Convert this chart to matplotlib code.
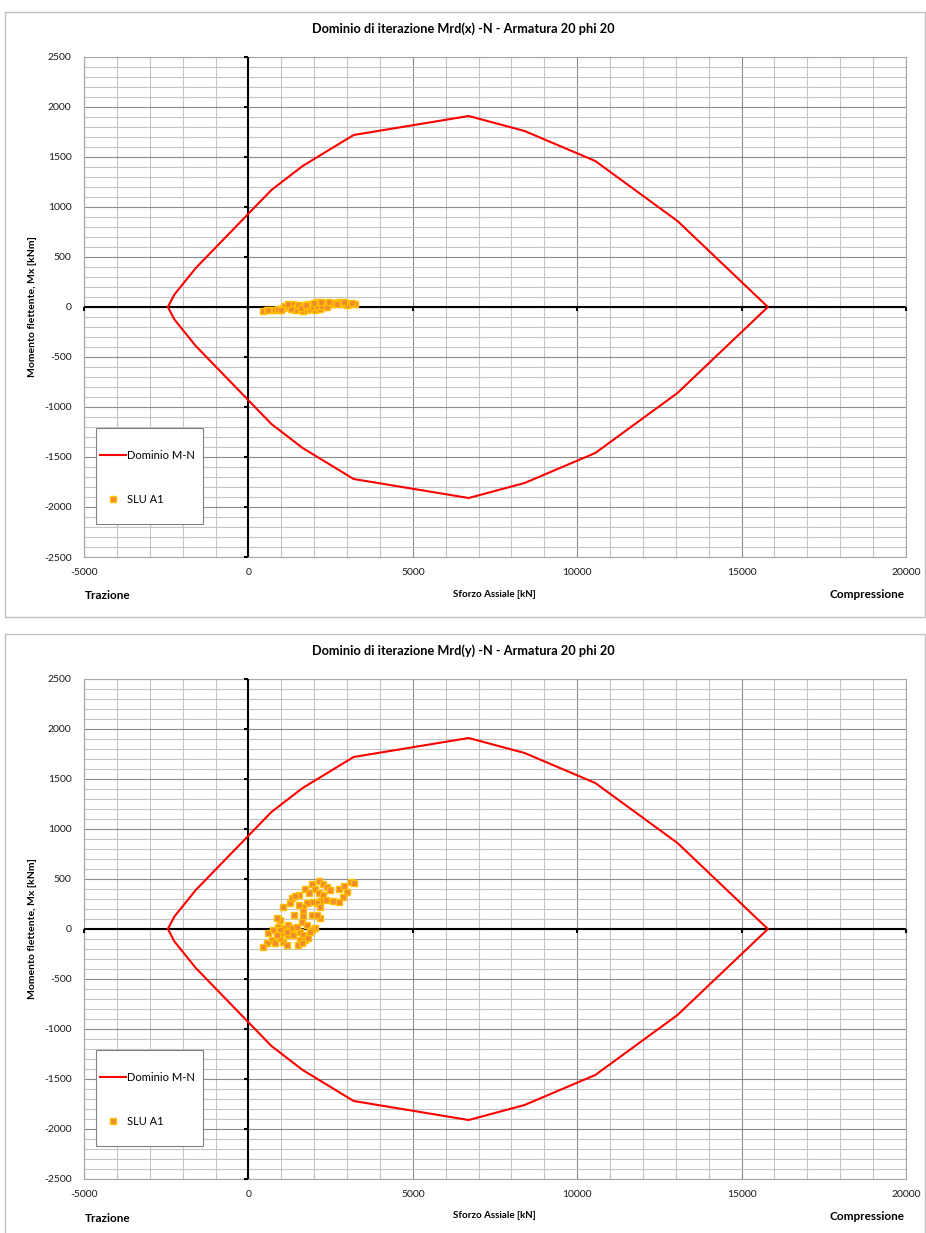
import numpy as np
import matplotlib.pyplot as plt
from matplotlib.patches import Rectangle
from matplotlib.ticker import MultipleLocator

plt.rcParams['font.family'] = ['Lato', 'DejaVu Sans']
plt.rcParams['axes.unicode_minus'] = False

W, H = 926, 1233

# dominio M-N (meta superiore, simmetrico rispetto a M=0)
dom_N = [-2450, -2250, -1600, 700, 1650, 3200, 6700, 8400, 10550, 13050, 15800]
dom_M = [0, 125, 390, 1170, 1410, 1720, 1910, 1760, 1460, 860, 0]

# punti SLU A1, flessione x
slu_x_N = [454, 555, 707, 808, 940, 1063, 1164, 1265, 1367, 1468, 1569, 1671, 1772, 1874,
           1823, 1924, 2076, 2177, 2278, 2380, 2481, 2025, 2177, 2329, 2531, 2734, 2835,
           2937, 3088, 3240, 2987, 1620, 1418, 1722, 600, 900, 1100, 1300, 1500, 1600,
           1750, 1950, 2100, 2250, 2400, 2600, 2700, 2900, 3150, 1200, 1000, 2000, 2200, 2450]
slu_x_M = [-40, -33, -33, -27, -27, -7, 0, 17, 27, 0, -33, -40, -33, -17,
           27, 33, 50, 33, 40, 27, 33, -27, -17, 0, 27, 50, 33,
           40, 27, 27, 17, 17, -33, 7, -25, -15, 10, -20, 20, -10,
           25, 0, 10, 15, 5, 40, 30, 55, 45, 30, -30, 40, 55, 50]

# punti SLU A1, flessione y
slu_y_N = [2157, 1924, 2258, 2400, 2481, 2035, 1712, 1550, 1853, 2157, 2278, 2360, 2562,
           2765, 2907, 3130, 3211, 3009, 2866, 2765, 2177, 2076, 1924, 1772, 1651, 1550,
           1265, 1316, 1418, 2177, 1063, 1671, 1924, 2177, 2096, 1671, 1387, 961, 859,
           1620, 1772, 2025, 1924,
           1214, 1063, 910, 758, 606, 707, 555, 454, 808, 1063, 1164, 961, 1012, 1214,
           1316, 1367, 1569, 1671, 1569, 1722, 1519, 1620, 1823, 1874, 961, 1164, 859, 1468]
slu_y_M = [483, 447, 450, 423, 390, 397, 397, 340, 357, 357, 340, 290, 280,
           397, 430, 473, 463, 373, 323, 273, 283, 257, 273, 257, 223, 240,
           263, 307, 333, 217, 217, 183, 140, 107, 140, 130, 140, 90, 107,
           73, 40, 7, -10,
           40, 7, 23, -10, -43, -110, -143, -177, -143, -127, -160, -93, -43, -60,
           7, -60, -27, -60, -110, -110, -160, -143, -93, -27, -10, -27, -60, 23]

x_ticks = [-5000, 0, 5000, 10000, 15000, 20000]
y_ticks = [-2500, -2000, -1500, -1000, -500, 0, 500, 1000, 1500, 2000, 2500]

titles = ["Dominio di iterazione Mrd(x) -N - Armatura 20 phi 20",
          "Dominio di iterazione Mrd(y) -N - Armatura 20 phi 20"]


def fx(px):
    return px / W


def fy(py):
    return 1 - py / H


def draw_panel(fig, top, pts_N, pts_M, title):
    # top = pixel offset of the chart block
    box = Rectangle((fx(5), fy(top + 605)), fx(920), 605 / H, transform=fig.transFigure,
                    fill=False, edgecolor='#bfbfbf', lw=1)
    fig.patches.append(box)

    ax = fig.add_axes([fx(84), fy(top + 545), fx(822), 500 / H])
    N_all = dom_N + dom_N[::-1]
    M_all = dom_M + [-m for m in dom_M[::-1]]
    line, = ax.plot(N_all, M_all, color='#ff0000', lw=1.5, zorder=4, label='Dominio M-N')
    pts, = ax.plot(pts_N, pts_M, ls='none', marker='s', ms=4.0, mfc='#f08a2c',
                   mec='#ffc000', mew=1.0, zorder=5, label='SLU A1')

    ax.set_xlim(-5000, 20000)
    ax.set_ylim(-2500, 2500)
    ax.set_xticks(x_ticks)
    ax.set_yticks(y_ticks)
    ax.xaxis.set_minor_locator(MultipleLocator(1000))
    ax.yaxis.set_minor_locator(MultipleLocator(100))
    ax.grid(which='minor', color='#c4c4c4', lw=0.8)
    ax.grid(which='major', color='#8c8c8c', lw=0.8)
    ax.set_axisbelow(True)
    ax.tick_params(which='both', length=0, labelsize=7.5, labelcolor='#1a1a1a')
    ax.tick_params(axis='y', pad=9)
    ax.tick_params(axis='x', pad=8)
    for s in ax.spines.values():
        s.set_color('#a6a6a6')
        s.set_linewidth(0.8)

    # assi neri passanti per l'origine
    ax.axhline(0, color='k', lw=1.5, zorder=3)
    ax.axvline(0, color='k', lw=1.5, zorder=3)
    ax.plot(np.zeros(len(y_ticks)), y_ticks, ls='none', marker=0, ms=3, mew=1.5,
            color='k', zorder=3, clip_on=False)
    ax.plot(x_ticks, np.zeros(len(x_ticks)), ls='none', marker=3, ms=3, mew=1.5,
            color='k', zorder=3, clip_on=False)

    # legenda: riquadro a parte, voci senza cornice
    ax.add_patch(Rectangle((0.0146, 0.066), 0.1302, 0.192, transform=ax.transAxes,
                           facecolor='white', edgecolor='#808080', lw=0.8, zorder=6))
    leg = ax.legend(handles=[line, pts], loc='upper left', bbox_to_anchor=(0.0195, 0.214),
                    frameon=False, fontsize=8, labelspacing=3.0, borderpad=0,
                    handlelength=2.3, handletextpad=0.15, borderaxespad=0)
    leg.set_zorder(7)

    fig.text(fx(463), fy(top + 17), title, ha='center', va='center',
             fontsize=9.2, fontweight='bold')
    fig.text(fx(33), fy(top + 295), 'Momento flettente, Mx [kNm]', rotation=90,
             ha='center', va='center', fontsize=7.5, fontweight='bold')
    fig.text(fx(494), fy(top + 582), 'Sforzo Assiale [kN]', ha='center', va='center',
             fontsize=7, fontweight='bold')
    fig.text(fx(85), fy(top + 584), 'Trazione', ha='left', va='center',
             fontsize=8.5, fontweight='bold')
    fig.text(fx(904), fy(top + 583), 'Compressione', ha='right', va='center',
             fontsize=8.5, fontweight='bold')
    return ax


fig = plt.figure(figsize=(W / 100, H / 100), dpi=100)
draw_panel(fig, 12, slu_x_N, slu_x_M, titles[0])
draw_panel(fig, 634, slu_y_N, slu_y_M, titles[1])
fig.savefig('out.png', dpi=100)
